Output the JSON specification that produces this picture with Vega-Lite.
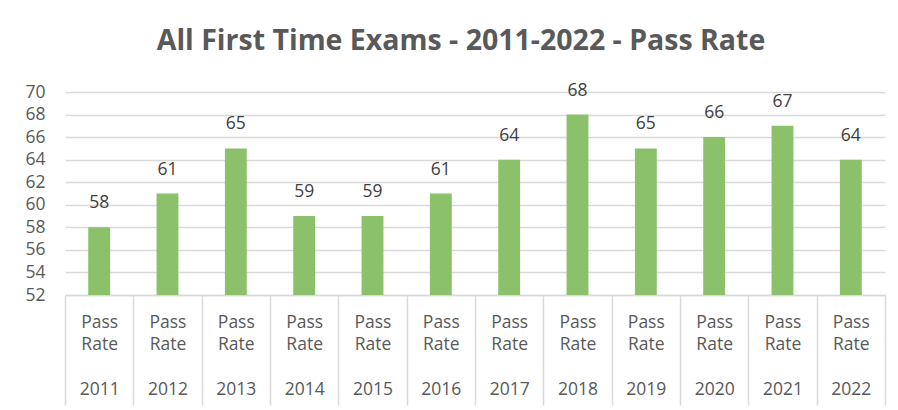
{
  "$schema": "https://vega.github.io/schema/vega-lite/v6.json",
  "width": 820,
  "height": 203,
  "autosize": {"type": "none"},
  "padding": {"left": 65, "top": 92, "right": 13, "bottom": 115},
  "background": "white",
  "title": {
    "text": "All First Time Exams - 2011-2022 - Pass Rate",
    "font": "Open Sans",
    "fontSize": 28.5,
    "fontWeight": "bold",
    "color": "#595959",
    "anchor": "middle",
    "dx": -14,
    "offset": 26
  },
  "data": {
    "values": [
      {"year": "2011", "rate": 58},
      {"year": "2012", "rate": 61},
      {"year": "2013", "rate": 65},
      {"year": "2014", "rate": 59},
      {"year": "2015", "rate": 59},
      {"year": "2016", "rate": 61},
      {"year": "2017", "rate": 64},
      {"year": "2018", "rate": 68},
      {"year": "2019", "rate": 65},
      {"year": "2020", "rate": 66},
      {"year": "2021", "rate": 67},
      {"year": "2022", "rate": 64}
    ]
  },
  "encoding": {
    "x": {
      "field": "year",
      "type": "nominal",
      "sort": null,
      "scale": {"paddingInner": 0, "paddingOuter": 0},
      "axis": {
        "title": null,
        "labelAngle": 0,
        "labelExpr": "datum.label ? ['Pass', 'Rate', '\u2800', datum.label] : ''",
        "labelFont": "Open Sans",
        "labelFontSize": 17.5,
        "labelColor": "#595959",
        "labelLineHeight": 22.5,
        "labelBaseline": "top",
        "labelAlign": "center",
        "labelPadding": -92,
        "labelOverlap": false,
        "labelFlush": false,
        "labelBound": false,
        "domainColor": "#d9d9d9",
        "domainWidth": 1.5,
        "tickColor": "#d9d9d9",
        "tickBand": "extent",
        "tickRound": true,
        "tickSize": 110,
        "tickWidth": 1.5
      }
    },
    "y": {
      "field": "rate",
      "type": "quantitative",
      "scale": {"domain": [52, 70], "nice": false, "zero": false},
      "axis": {
        "title": null,
        "values": [52, 54, 56, 58, 60, 62, 64, 66, 68, 70],
        "labelFont": "Open Sans",
        "labelFontSize": 17.5,
        "labelColor": "#595959",
        "labelPadding": 20,
        "domain": false,
        "ticks": false,
        "gridColor": "#d9d9d9",
        "gridWidth": 1.5
      }
    }
  },
  "layer": [
    {"mark": {"type": "bar", "color": "#8bc16a", "clip": true, "width": {"band": 0.32}}},
    {
      "mark": {"type": "text", "dy": -24, "font": "Open Sans", "fontSize": 17.5, "color": "#404040"},
      "encoding": {"text": {"field": "rate", "type": "quantitative"}}
    }
  ],
  "config": {"view": {"stroke": null}}
}
